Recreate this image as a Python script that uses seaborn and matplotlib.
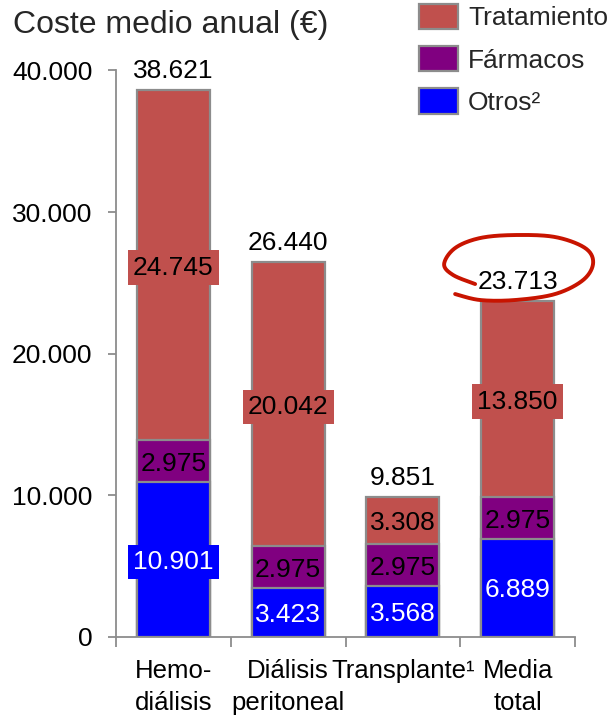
import numpy as np
import pandas as pd
import seaborn as sns
import matplotlib
matplotlib.use("Agg")
import matplotlib.pyplot as plt
import matplotlib.transforms as mtransforms
from matplotlib.patches import Patch
from matplotlib.lines import Line2D
from matplotlib.ticker import FuncFormatter

# --- data -------------------------------------------------------------
categories = ["Hemo-\ndiálisis", "Diálisis\nperitoneal", "Transplante¹", "Media\ntotal"]
otros = [10901, 3423, 3568, 6889]
farmacos = [2975, 2975, 2975, 2975]
tratamiento = [24745, 20042, 3308, 13850]
totals = [38621, 26440, 9851, 23713]
series_names = ["Tratamiento", "Fármacos", "Otros²"]
yticks = [0, 10000, 20000, 30000, 40000]
title = "Coste medio anual (€)"

# --- style ------------------------------------------------------------
sns.set_theme(style="white")
plt.rcParams["font.family"] = ["Liberation Sans", "DejaVu Sans"]

colors = {"Tratamiento": "#C0504D", "Fármacos": "#800080", "Otros²": "#0000FF"}
gray = "#8C8C8C"
FS = 19


def fmt(v):
    return f"{v:,.0f}".replace(",", ".")


fig = plt.figure(figsize=(6.12, 7.21), dpi=100)
ax = fig.add_axes([116 / 612, 84.3 / 721, 459 / 612, 566.2 / 721])

df = pd.DataFrame({"cat": categories, "Otros²": otros,
                   "Fármacos": farmacos, "Tratamiento": tratamiento})
df["top_otros"] = df["Otros²"]
df["top_farm"] = df["top_otros"] + df["Fármacos"]
df["top_trat"] = df["top_farm"] + df["Tratamiento"]

# stacked bars drawn as layered cumulative bars, tallest first
for name, col in [("Tratamiento", "top_trat"), ("Fármacos", "top_farm"), ("Otros²", "top_otros")]:
    sns.barplot(data=df, x="cat", y=col, order=categories, color=colors[name],
                saturation=1, width=0.636, edgecolor=gray, linewidth=1.6,
                errorbar=None, ax=ax)

# value labels inside each segment; wide labels get a filled box that
# spills over the bar outline
bottoms = np.zeros(len(categories))
for name, vals, tcolor in [("Otros²", otros, "white"),
                           ("Fármacos", farmacos, "black"),
                           ("Tratamiento", tratamiento, "black")]:
    vals = np.asarray(vals, dtype=float)
    for i, v in enumerate(vals):
        label = fmt(v)
        box = None
        if len(label) >= 6:
            box = dict(boxstyle="square,pad=0.2", fc=colors[name], ec="none")
        ax.text(i, bottoms[i] + v / 2, label, ha="center", va="center_baseline",
                fontsize=FS, color=tcolor, zorder=5, bbox=box)
    bottoms += vals

# totals above the bars
for i, t in enumerate(totals):
    ax.annotate(fmt(t), xy=(i, bottoms[i]), xytext=(0, 9), textcoords="offset points",
                ha="center", va="baseline", fontsize=FS, color="black")

# axes
ax.set_xlim(-0.5, len(categories) - 0.5)
ax.set_ylim(0, 40000)
ax.set_yticks(yticks)
ax.yaxis.set_major_formatter(FuncFormatter(lambda v, p: fmt(v)))
ax.set_xlabel("")
ax.set_ylabel("")
for s in ["top", "right"]:
    ax.spines[s].set_visible(False)
for s in ["left", "bottom"]:
    ax.spines[s].set_color(gray)
    ax.spines[s].set_linewidth(1.3)

ax.tick_params(axis="y", left=True, direction="out", length=6, width=1.3,
               color=gray, pad=11, labelsize=FS, labelcolor="black")
ax.set_xticks(np.arange(-0.5, len(categories)), minor=True)
ax.tick_params(axis="x", which="major", bottom=False, length=0, pad=16,
               labelsize=18.5, labelcolor="black")
ax.tick_params(axis="x", which="minor", bottom=True, direction="out",
               length=7.2, width=1.3, color=gray)
for lab in ax.get_xticklabels():
    lab.set_linespacing(1.42)

# title at top left
fig.text(13 / 612, 1 - 33.3 / 721, title, fontsize=23, ha="left", va="baseline")

# legend
handles = [Patch(facecolor=colors[n], edgecolor=gray, linewidth=1.6) for n in series_names]
fig.legend(handles, series_names, loc="upper left", bbox_to_anchor=(419 / 612, 1 - 3.5 / 721),
           frameon=False, borderpad=0, borderaxespad=0, fontsize=FS,
           handlelength=1.48, handleheight=1.1, handletextpad=0.38, labelspacing=0.6)

# hand-drawn red loop highlighting the overall average (offsets in pixels
# relative to the top of the last bar)
loop_px = np.array([
    (-40, -4.5), (-62, 4.5), (-71, 15.5), (-60, 31.5), (-35, 41.5), (0, 44.5),
    (40, 42.5), (70, 31.5), (78, 16.5), (68, -0.5), (40, -14.5), (0, -20.5),
    (-35, -20.5), (-60, -14.5)]) + np.array([-2.5, 21.5])


def catmull_rom(pts, n=24):
    pts = np.vstack([pts[0], pts, pts[-1]])
    out = []
    for k in range(1, len(pts) - 2):
        p0, p1, p2, p3 = pts[k - 1], pts[k], pts[k + 1], pts[k + 2]
        t = np.linspace(0, 1, n, endpoint=False)[:, None]
        out.append(0.5 * ((2 * p1) + (-p0 + p2) * t + (2 * p0 - 5 * p1 + 4 * p2 - p3) * t ** 2
                          + (-p0 + 3 * p1 - 3 * p2 + p3) * t ** 3))
    out.append(pts[-2][None, :])
    return np.vstack(out)


curve = catmull_rom(loop_px) / 100.0  # inches at 100 dpi
last = len(categories) - 1
trans = fig.dpi_scale_trans + mtransforms.ScaledTranslation(last, bottoms[last], ax.transData)
fig.add_artist(Line2D(curve[:, 0], curve[:, 1], transform=trans, color="#C81400",
                      linewidth=2.8, solid_capstyle="round", clip_on=False, zorder=10))

fig.savefig("out.png", dpi=100)
